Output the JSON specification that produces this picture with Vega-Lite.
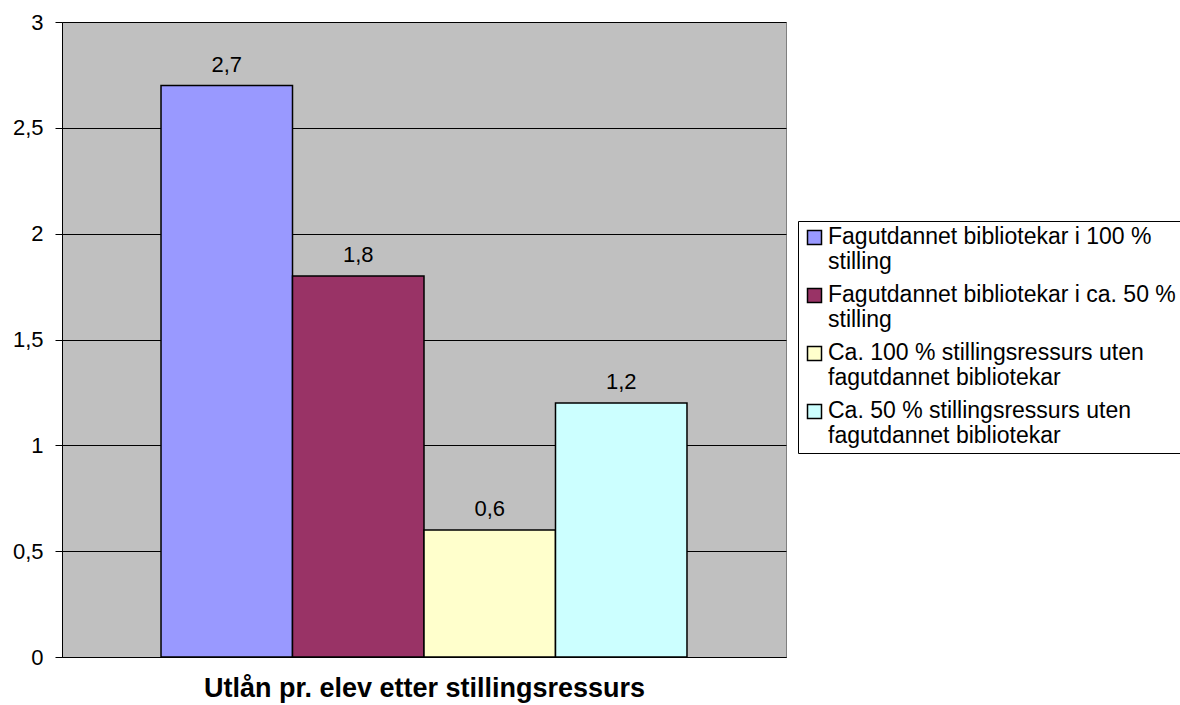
{
  "$schema": "https://vega.github.io/schema/vega-lite/v6.json",
  "width": 724,
  "height": 635,
  "autosize": "none",
  "padding": {"left": 62, "top": 22, "right": 394, "bottom": 48},
  "background": "white",
  "data": {
    "values": [
      {"kategori": "Utlån pr. elev etter stillingsressurs", "serie": "Fagutdannet bibliotekar i 100 % stilling", "verdi": 2.7},
      {"kategori": "Utlån pr. elev etter stillingsressurs", "serie": "Fagutdannet bibliotekar i ca. 50 % stilling", "verdi": 1.8},
      {"kategori": "Utlån pr. elev etter stillingsressurs", "serie": "Ca. 100 % stillingsressurs uten fagutdannet bibliotekar", "verdi": 0.6},
      {"kategori": "Utlån pr. elev etter stillingsressurs", "serie": "Ca. 50 % stillingsressurs uten fagutdannet bibliotekar", "verdi": 1.2}
    ]
  },
  "transform": [
    {"calculate": "replace(format(datum.verdi, '.1f'), '.', ',')", "as": "etikett"}
  ],
  "encoding": {
    "x": {
      "field": "serie",
      "type": "nominal",
      "sort": null,
      "scale": {"paddingInner": 0, "paddingOuter": 0.753},
      "axis": {
        "title": "Utlån pr. elev etter stillingsressurs",
        "labels": false,
        "ticks": false,
        "domain": true,
        "domainColor": "black",
        "titleFont": "Liberation Sans",
        "titleFontSize": 27,
        "titleFontWeight": "bold",
        "titleColor": "black",
        "titlePadding": 18
      }
    },
    "y": {
      "field": "verdi",
      "type": "quantitative",
      "scale": {"domain": [0, 3], "nice": false},
      "axis": {
        "title": null,
        "values": [0, 0.5, 1, 1.5, 2, 2.5, 3],
        "labelExpr": "replace(format(datum.value, ''), '.', ',')",
        "grid": true,
        "gridColor": "black",
        "gridWidth": 1,
        "domainColor": "black",
        "tickColor": "black",
        "tickSize": 7,
        "labelPadding": 12,
        "labelFont": "Liberation Sans",
        "labelFontSize": 22,
        "labelColor": "black"
      }
    }
  },
  "layer": [
    {
      "mark": {"type": "bar", "stroke": "black", "strokeWidth": 1.5},
      "encoding": {
        "fill": {
          "field": "serie",
          "type": "nominal",
          "sort": null,
          "scale": {
            "domain": [
              "Fagutdannet bibliotekar i 100 % stilling",
              "Fagutdannet bibliotekar i ca. 50 % stilling",
              "Ca. 100 % stillingsressurs uten fagutdannet bibliotekar",
              "Ca. 50 % stillingsressurs uten fagutdannet bibliotekar"
            ],
            "range": ["#9999FF", "#993366", "#FFFFCC", "#CCFFFF"]
          },
          "legend": {
            "title": null,
            "orient": "none",
            "legendX": 736,
            "legendY": 199,
            "symbolType": "square",
            "symbolSize": 196,
            "symbolStrokeColor": "black",
            "symbolStrokeWidth": 1.5,
            "labelFont": "Liberation Sans",
            "labelFontSize": 23,
            "labelColor": "black",
            "labelLimit": 600,
            "labelBaseline": "top",
            "labelOffset": 2,
            "rowPadding": 9,
            "padding": 5,
            "strokeColor": "black",
            "fillColor": "white",
            "labelExpr": "datum.label == 'Fagutdannet bibliotekar i 100 % stilling' ? ['Fagutdannet bibliotekar i 100 %', 'stilling'] : datum.label == 'Fagutdannet bibliotekar i ca. 50 % stilling' ? ['Fagutdannet bibliotekar i ca. 50 %', 'stilling'] : datum.label == 'Ca. 100 % stillingsressurs uten fagutdannet bibliotekar' ? ['Ca. 100 % stillingsressurs uten', 'fagutdannet bibliotekar'] : ['Ca. 50 % stillingsressurs uten', 'fagutdannet bibliotekar']",
            "encode": {
              "labels": {"update": {"dy": {"value": -12}, "lineHeight": {"value": 25}}}
            }
          }
        }
      }
    },
    {
      "mark": {"type": "text", "dy": -14, "baseline": "alphabetic", "font": "Liberation Sans", "fontSize": 22, "color": "black"},
      "encoding": {"text": {"field": "etikett"}}
    }
  ],
  "config": {
    "view": {"fill": "#C0C0C0", "stroke": "#808080", "strokeWidth": 1}
  }
}
